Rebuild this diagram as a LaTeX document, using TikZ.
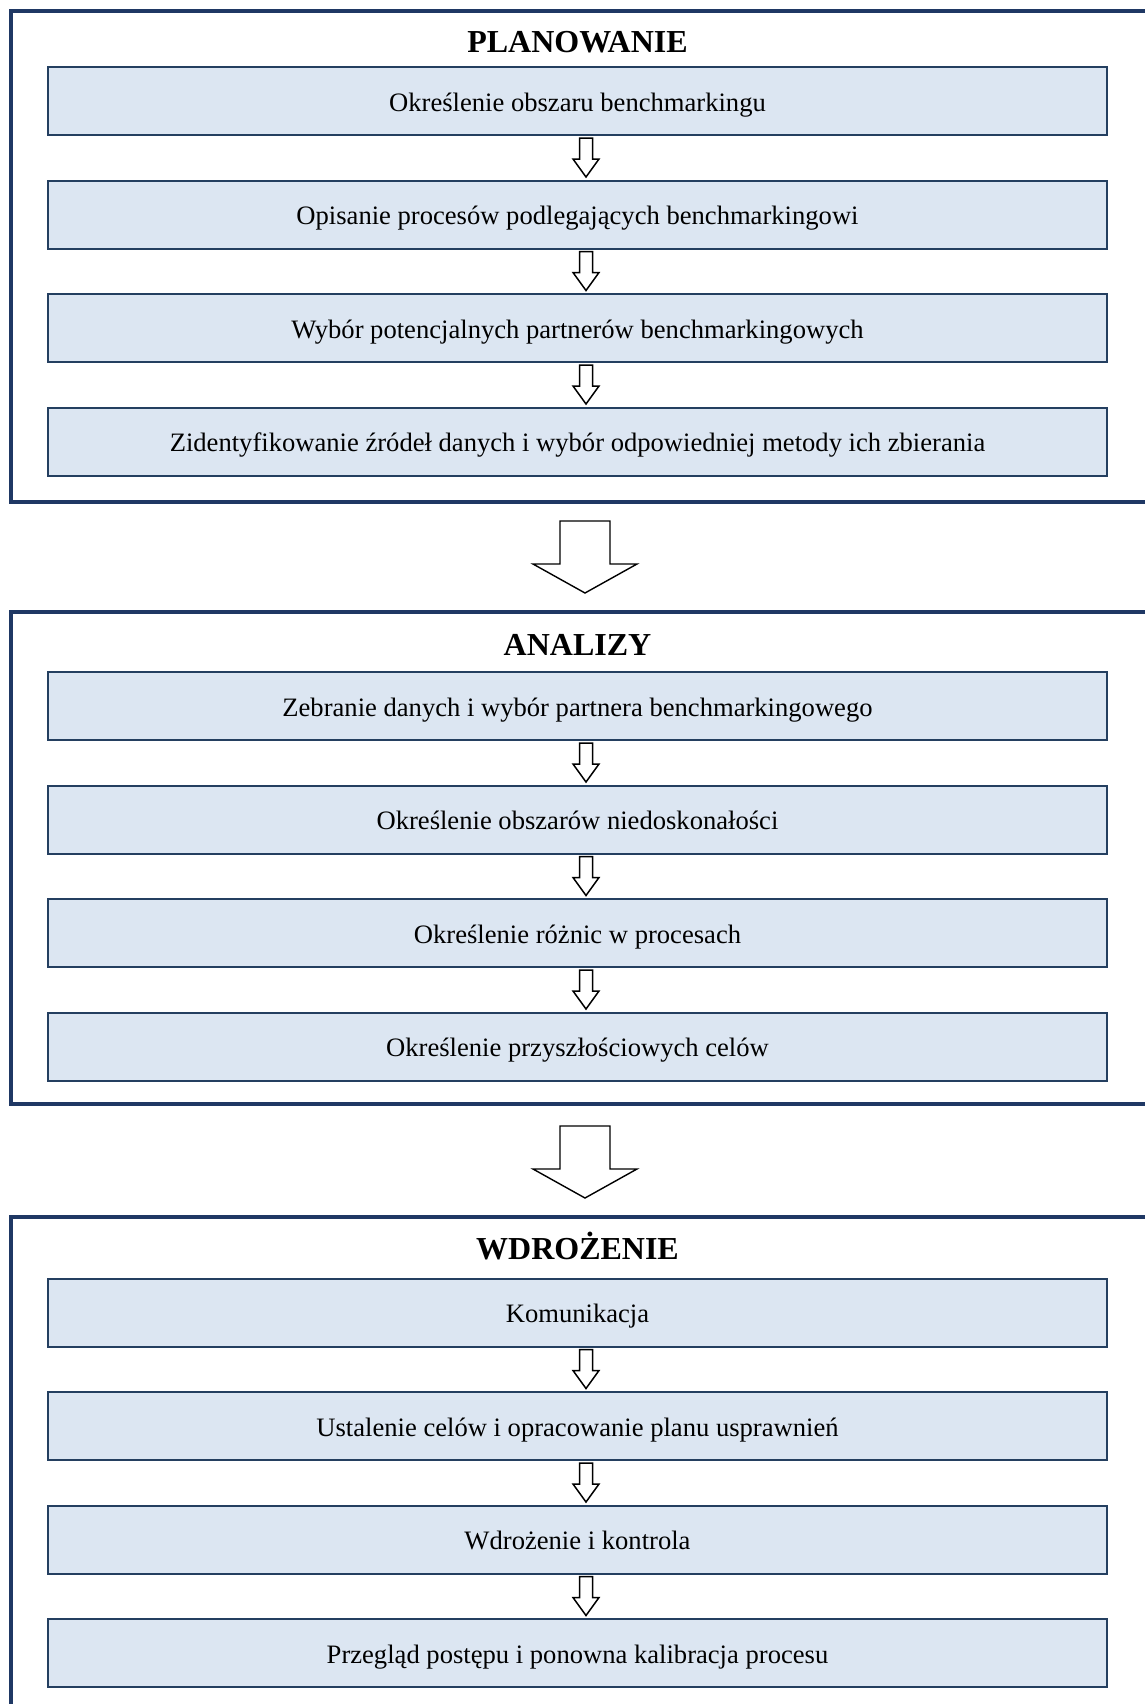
\documentclass[tikz,border=0pt]{standalone}
\usepackage{fontspec}
\setmainfont{Liberation Serif}
\usepackage{tikz}
\usetikzlibrary{positioning,calc}
\definecolor{framecol}{HTML}{1F3864}
\definecolor{boxline}{HTML}{243F60}
\definecolor{boxfill}{HTML}{DCE6F2}
\tikzset{stagebox/.style={draw=boxline,fill=boxfill,line width=1pt,
		minimum width=529.5pt,minimum height=34pt,inner sep=0pt,outer sep=0pt,
		text height=10pt,text depth=0pt,font=\fontsize{13.3}{16}\selectfont},
	stageframe/.style={draw=framecol,line width=2pt,inner sep=0pt,outer sep=0pt,
		minimum width=569.75pt},
	phasetitle/.style={anchor=base,font=\fontsize{16}{19}\selectfont\bfseries},
	hollow/.style={draw=black,fill=white,line width=0.75pt,line join=miter},
	node distance=22.75pt}

\begin{document}
\begin{tikzpicture}[x=0.5pt,y=-0.5pt]
	\useasboundingbox (0,0) rectangle (1145,1704);
	\clip (0,0) rectangle (1145,1704);
	% frames
	\node[stageframe,minimum height=245.75pt] (f1) at (580.25,256.25) {};
	\node[stageframe,minimum height=246pt] (f2) at (580.25,858) {};
	\node[stageframe,minimum height=251.5pt] (f3) at (580.25,1468.5) {};
	\node[phasetitle] (t1) at (577.5,52.3) {PLANOWANIE};
	\node[phasetitle] (t2) at (577.5,655.5) {ANALIZY};
	\node[phasetitle] (t3) at (577.5,1259.5) {WDROŻENIE};
	% planowanie
	\node[stagebox] (b1) at (577.5,101) {Określenie obszaru benchmarkingu};
	\node[stagebox,below=of b1] (b2) {Opisanie procesów podlegających benchmarkingowi};
	\node[stagebox,below=of b2] (b3) {Wybór potencjalnych partnerów benchmarkingowych};
	\node[stagebox,below=of b3] (b4) {Zidentyfikowanie źródeł danych i wybór odpowiedniej metody ich zbierania};
	% analizy
	\node[stagebox] (b5) at (577.5,706) {Zebranie danych i wybór partnera benchmarkingowego};
	\node[stagebox,below=of b5] (b6) {Określenie obszarów niedoskonałości};
	\node[stagebox,below=of b6] (b7) {Określenie różnic w procesach};
	\node[stagebox,below=of b7] (b8) {Określenie przyszłościowych celów};
	% wdrozenie
	\node[stagebox] (b9) at (577.5,1312.5) {Komunikacja};
	\node[stagebox,below=of b9] (b10) {Ustalenie celów i opracowanie planu usprawnień};
	\node[stagebox,below=of b10] (b11) {Wdrożenie i kontrola};
	\node[stagebox,below=of b11] (b12) {Przegląd postępu i ponowna kalibracja procesu};
	% small arrows
	\draw[hollow] ($(b1.south)+(2,3)$) -- ++(13,0) -- ++(0,21) -- ++(6.5,0) -- ++(-13,18) -- ++(-13,-18) -- ++(6.5,0) -- cycle;
	\draw[hollow] ($(b2.south)+(2,3)$) -- ++(13,0) -- ++(0,21) -- ++(6.5,0) -- ++(-13,18) -- ++(-13,-18) -- ++(6.5,0) -- cycle;
	\draw[hollow] ($(b3.south)+(2,3)$) -- ++(13,0) -- ++(0,21) -- ++(6.5,0) -- ++(-13,18) -- ++(-13,-18) -- ++(6.5,0) -- cycle;
	\draw[hollow] ($(b5.south)+(2,3)$) -- ++(13,0) -- ++(0,21) -- ++(6.5,0) -- ++(-13,18) -- ++(-13,-18) -- ++(6.5,0) -- cycle;
	\draw[hollow] ($(b6.south)+(2,3)$) -- ++(13,0) -- ++(0,21) -- ++(6.5,0) -- ++(-13,18) -- ++(-13,-18) -- ++(6.5,0) -- cycle;
	\draw[hollow] ($(b7.south)+(2,3)$) -- ++(13,0) -- ++(0,21) -- ++(6.5,0) -- ++(-13,18) -- ++(-13,-18) -- ++(6.5,0) -- cycle;
	\draw[hollow] ($(b9.south)+(2,3)$) -- ++(13,0) -- ++(0,21) -- ++(6.5,0) -- ++(-13,18) -- ++(-13,-18) -- ++(6.5,0) -- cycle;
	\draw[hollow] ($(b10.south)+(2,3)$) -- ++(13,0) -- ++(0,21) -- ++(6.5,0) -- ++(-13,18) -- ++(-13,-18) -- ++(6.5,0) -- cycle;
	\draw[hollow] ($(b11.south)+(2,3)$) -- ++(13,0) -- ++(0,21) -- ++(6.5,0) -- ++(-13,18) -- ++(-13,-18) -- ++(6.5,0) -- cycle;
	% big arrows
	\draw[hollow,line width=0.7pt] ($(f1.south)+(-20.25,19)$) -- ++(50,0) -- ++(0,43) -- ++(27,0) -- ++(-52,29) -- ++(-52,-29) -- ++(27,0) -- cycle;
	\draw[hollow,line width=0.7pt] ($(f2.south)+(-20.25,22)$) -- ++(50,0) -- ++(0,43) -- ++(27,0) -- ++(-52,29) -- ++(-52,-29) -- ++(27,0) -- cycle;
\end{tikzpicture}
\end{document}
